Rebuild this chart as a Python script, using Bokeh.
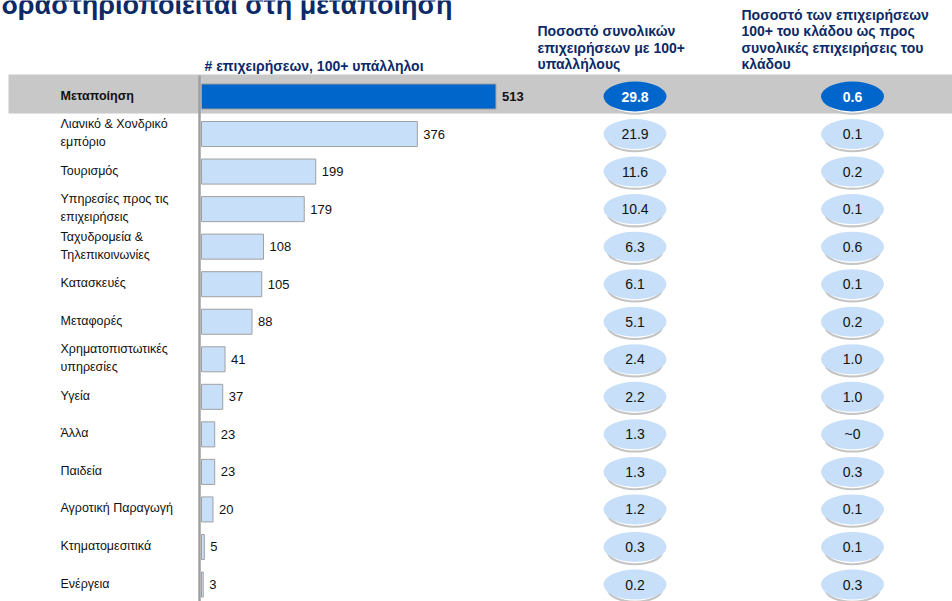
from bokeh.plotting import figure
from bokeh.models import Range1d, ColumnDataSource
from bokeh.core.properties import value
from bokeh.embed import file_html
from bokeh.resources import INLINE

# ---------------- data ----------------
title_text = "δραστηριοποιείται στη μεταποίηση"
bar_header = "# επιχειρήσεων, 100+ υπάλληλοι"
share_header = ["Ποσοστό συνολικών", "επιχειρήσεων με 100+", "υπαλλήλους"]
sector_header = ["Ποσοστό των επιχειρήσεων", "100+ του κλάδου ως προς",
                 "συνολικές επιχειρήσεις του", "κλάδου"]

sectors = ["Μεταποίηση", "Λιανικό & Χονδρικό\nεμπόριο", "Τουρισμός",
           "Υπηρεσίες προς τις\nεπιχειρήσεις", "Ταχυδρομεία &\nΤηλεπικοινωνίες",
           "Κατασκευές", "Μεταφορές", "Χρηματοπιστωτικές\nυπηρεσίες", "Υγεία",
           "Άλλα", "Παιδεία", "Αγροτική Παραγωγή", "Κτηματομεσιτικά", "Ενέργεια"]
counts = [513, 376, 199, 179, 108, 105, 88, 41, 37, 23, 23, 20, 5, 3]
share_total = ["29.8", "21.9", "11.6", "10.4", "6.3", "6.1", "5.1", "2.4",
               "2.2", "1.3", "1.3", "1.2", "0.3", "0.2"]
share_sector = ["0.6", "0.1", "0.2", "0.1", "0.6", "0.1", "0.2", "1.0",
                "1.0", "~0", "0.3", "0.1", "0.1", "0.3"]
highlight = "Μεταποίηση"

# ---------------- layout / style ----------------
W, H = 952, 601
ZERO_PX = 201.0
PX_PER_UNIT = 0.574
ROW0_PX = 96.0
ROW_PX = 37.54
FONT = value("Liberation Sans")
NAVY = "#0c2a66"
DARK = "#0066CC"
LIGHT = "#C7DFF8"

rows = list(range(len(sectors)))
is_hl = [s == highlight for s in sectors]

src = ColumnDataSource(dict(
    y=rows,
    sector=sectors,
    count=counts,
    count_txt=[str(c) for c in counts],
    share=share_total,
    sect=share_sector,
    bar_fill=[DARK if h else LIGHT for h in is_hl],
    ell_fill=[DARK if h else LIGHT for h in is_hl],
    txt_col=["white" if h else "#111111" for h in is_hl],
    style=["bold" if h else "normal" for h in is_hl],
    shadow_y=[r + 0.14 for r in rows],
    inner_y=[r + 0.10 for r in rows],
))

p = figure(width=W, height=H, output_backend="svg", toolbar_location=None,
           x_range=Range1d(-ZERO_PX / PX_PER_UNIT, (W - ZERO_PX) / PX_PER_UNIT),
           y_range=Range1d((H - ROW0_PX) / ROW_PX, -ROW0_PX / ROW_PX),
           x_axis_location=None, y_axis_location=None,
           min_border=0, outline_line_color=None,
           background_fill_color="white", border_fill_color="white")
p.grid.grid_line_color = None
p.extra_x_ranges = {"px": Range1d(0, W)}
p.extra_y_ranges = {"py": Range1d(H, 0)}
p.styles = {"position": "absolute", "left": "0px", "top": "0px"}

# highlight band
p.quad(left=8, right=W, top=74, bottom=113, x_range_name="px", y_range_name="py",
       fill_color="#C8C8C8", line_color=None)

# bars
p.hbar(y="y", left=0, right="count", height=0.667, source=src,
       fill_color="bar_fill", line_color="#A0A0A0", line_width=1)

# axis line
p.segment(x0=199, y0=75, x1=199, y1=H, x_range_name="px", y_range_name="py",
          line_color="#A0A0A0", line_width=2.5)

# bar value labels
p.text(x="count", y="y", text="count_txt", source=src, x_offset=6,
       text_baseline="middle", text_align="left", text_font=FONT,
       text_font_size="13px", text_font_style="style", text_color="#111111")

# sector labels
p.text(x=60, y="y", text="sector", source=src, x_range_name="px", y_offset=-1,
       text_baseline="middle", text_align="left", text_font=FONT,
       text_font_size="12.5px", text_font_style="style", text_color="#111111",
       text_line_height=1.3)

# ellipse columns
for cx, col in [(634.5, "share"), (852.0, "sect")]:
    p.ellipse(x=cx, y="shadow_y", width=56, height=26, width_units="screen",
              height_units="screen", source=src, x_range_name="px",
              fill_color="#C4C4C4", line_color=None)
    p.ellipse(x=cx, y="inner_y", width=53, height=25, width_units="screen",
              height_units="screen", source=src, x_range_name="px",
              fill_color="white", line_color=None)
    p.ellipse(x=cx, y="y", width=63, height=30, width_units="screen",
              height_units="screen", source=src, x_range_name="px",
              fill_color="ell_fill", line_color=None)
    p.text(x=cx, y="y", text=col, source=src, x_range_name="px",
           text_baseline="middle", text_align="center", text_font=FONT,
           text_font_size="14px", text_font_style="style", text_color="txt_col")

# headers
p.text(x=[1], y=[4.5], text=[title_text], x_range_name="px", y_range_name="py",
       text_baseline="alphabetic", text_align="left", text_font=FONT,
       text_font_size="27px", text_font_style="bold", text_color=NAVY)
p.text(x=[204], y=[65], text=[bar_header], x_range_name="px", y_range_name="py",
       text_baseline="alphabetic", text_align="left", text_font=FONT,
       text_font_size="14px", text_font_style="bold", text_color=NAVY)
n2 = len(share_header)
p.text(x=[537] * n2, y=[63.5 - 16.5 * (n2 - 1 - i) for i in range(n2)],
       text=share_header, x_range_name="px", y_range_name="py",
       text_baseline="alphabetic", text_align="left", text_font=FONT,
       text_font_size="14px", text_font_style="bold", text_color=NAVY)
n3 = len(sector_header)
p.text(x=[741] * n3, y=[63.5 - 16.5 * (n3 - 1 - i) for i in range(n3)],
       text=sector_header, x_range_name="px", y_range_name="py",
       text_baseline="alphabetic", text_align="left", text_font=FONT,
       text_font_size="14px", text_font_style="bold", text_color=NAVY)

open("out.html", "w").write(file_html(p, INLINE))
